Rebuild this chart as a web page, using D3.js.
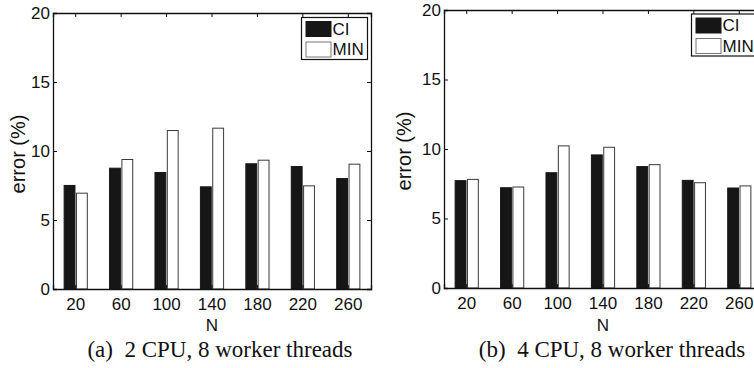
<!DOCTYPE html>
<html>
<head>
<meta charset="utf-8">
<script src="https://cdn.jsdelivr.net/npm/d3@7"></script>
<style>
  body { margin: 0; background: #fff; }
  .axis-text { font-family: "Liberation Sans", Arial, Helvetica, sans-serif; font-size: 17px; fill: #111; }
  .ylabel { font-family: "Liberation Sans", Arial, Helvetica, sans-serif; font-size: 20px; fill: #111; }
  .caption { font-family: "Liberation Serif", "Times New Roman", serif; font-size: 23px; fill: #111; }
</style>
</head>
<body>
<svg id="chart" width="754" height="368"></svg>
<script>
// data
const categories = [20, 60, 100, 140, 180, 220, 260];
const series = ['CI', 'MIN'];
const ci_a = [7.54, 8.79, 8.48, 7.44, 9.11, 8.91, 8.04];
const min_a = [6.98, 9.42, 11.52, 11.69, 9.37, 7.51, 9.08];
const ci_b = [7.76, 7.25, 8.33, 9.61, 8.77, 7.78, 7.23];
const min_b = [7.85, 7.30, 10.26, 10.16, 8.91, 7.61, 7.38];
const yTicks = [0, 5, 10, 15, 20];

const fills = { CI: '#161616', MIN: '#ffffff' };
const strokes = { CI: '#161616', MIN: '#3a3a3a' };

const svg = d3.select('#chart');

function Draw_Panel(p){
    const g = svg.append('g').attr('transform', `translate(${p.left},${p.top})`);

    const x = d3.scaleBand()
    .domain(categories)
    .range([0, p.width])
    .padding(0);

    const y = d3.scaleLinear()
    .domain([0, 20])
    .range([p.height, 0]);

    // two bars per group, roughly a quarter of the slot each
    const bw = x.bandwidth() * 0.255;
    const x1 = d3.scaleBand()
    .domain(series)
    .range([x.bandwidth()/2 - bw - 0.5, x.bandwidth()/2 + bw + 0.5])
    .paddingInner(0.04);

    const rows = categories.map((c, i) => ({ cat: c, CI: p.ci[i], MIN: p.min[i] }));

    const groups = g.selectAll('g.grp')
    .data(rows)
    .enter()
    .append('g')
    .attr('class', 'grp')
    .attr('transform', d => `translate(${x(d.cat)},0)`);

    groups.selectAll('rect')
    .data(d => series.map(s => ({ key: s, value: d[s] })))
    .enter()
    .append('rect')
    .attr('x', d => x1(d.key) + 0.5)
    .attr('y', d => y(d.value) + 0.5)
    .attr('width', x1.bandwidth() - 1)
    .attr('height', d => y(0) - y(d.value) - 0.5)
    .attr('fill', d => fills[d.key])
    .attr('stroke', d => strokes[d.key])
    .attr('stroke-width', 1);

    // bottom axis, ticks pointing inward
    const xAxis = g.append('g')
    .attr('transform', `translate(0,${p.height})`)
    .call(d3.axisBottom(x).tickSize(-4).tickPadding(9));
    // left axis
    g.append('g')
    .call(d3.axisLeft(y).tickValues(yTicks).tickSize(-4).tickPadding(3));
    // top and right mirror ticks
    g.append('g')
    .call(d3.axisTop(x).tickSize(-4).tickFormat(''));
    g.append('g')
    .attr('transform', `translate(${p.width},0)`)
    .call(d3.axisRight(y).tickValues(yTicks).tickSize(-4).tickFormat(''));

    g.selectAll('.domain').attr('stroke', '#111').attr('stroke-width', 1.3);
    g.selectAll('.tick line').attr('stroke', '#111');
    g.selectAll('.tick text').attr('class', 'axis-text').attr('fill', '#111');
    xAxis.selectAll('.tick text').attr('dy', '0.71em');

    // axis labels
    g.append('text')
    .attr('class', 'axis-text')
    .attr('x', p.width/2)
    .attr('y', 331 - p.top)
    .style('text-anchor', 'middle')
    .text('N');

    g.append('text')
    .attr('class', 'ylabel')
    .attr('transform', `translate(${-p.labelGap},${p.height/2 + p.labelShift}) rotate(-90)`)
    .style('text-anchor', 'middle')
    .text('error (%)');

    // legend
    const lg = g.append('g').attr('transform', `translate(${p.legend[0]},${p.legend[1]})`);
    lg.append('rect')
    .attr('width', 66).attr('height', 42)
    .attr('fill', '#fff').attr('stroke', '#111').attr('stroke-width', 1.2);
    series.forEach((s, i) => {
        lg.append('rect')
        .attr('x', 4.5).attr('y', 4 + i*20.5)
        .attr('width', 25).attr('height', 15)
        .attr('fill', fills[s])
        .attr('stroke', s === 'MIN' ? '#777' : '#161616');
        lg.append('text')
        .attr('class', 'axis-text')
        .attr('x', 31)
        .attr('y', 17 + i*20.5)
        .text(s);
    });

    svg.append('text')
    .attr('class', 'caption')
    .attr('x', p.captionX)
    .attr('y', 357)
    .attr('xml:space', 'preserve')
    .style('white-space', 'pre')
    .style('text-anchor', 'middle')
    .text(p.caption);
}

Draw_Panel({ left: 53, top: 13, width: 318, height: 276, ci: ci_a, min: min_a,
    legend: [248.5, 4.5], labelGap: 28, labelShift: 3, captionX: 220, caption: '(a)  2 CPU, 8 worker threads' });
Draw_Panel({ left: 444, top: 10, width: 318, height: 278, ci: ci_b, min: min_b,
    legend: [247.5, 4], labelGap: 33, labelShift: 2, captionX: 612, caption: '(b)  4 CPU, 8 worker threads' });
</script>
</body>
</html>
